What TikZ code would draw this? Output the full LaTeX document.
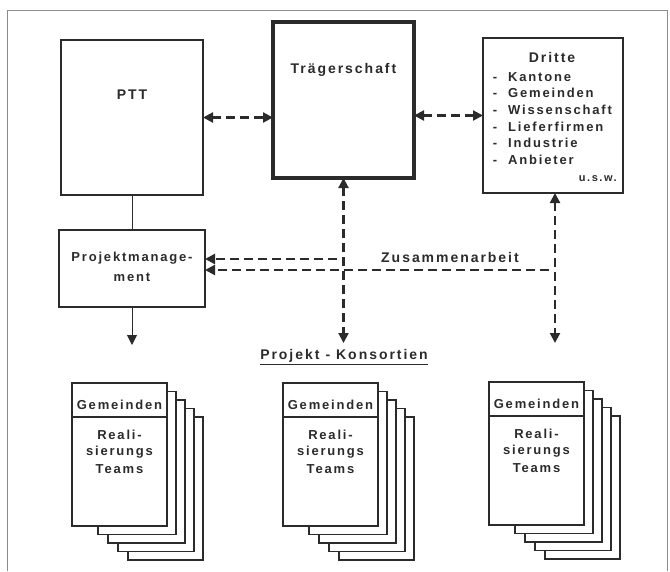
\documentclass[tikz,border=0pt]{standalone}
\usepackage{fontspec}
\setmainfont{Liberation Sans}[LetterSpace=14]
\usetikzlibrary{arrows.meta}
\definecolor{ink}{HTML}{2B2B2B}
\begin{document}
\begin{tikzpicture}[x=1pt,y=-1pt,
  box/.style={draw=ink,line width=2.4pt,fill=white,inner sep=0pt,outer sep=0pt,anchor=north west},
  page/.style={draw=ink,line width=1.8pt,fill=white},
  txt/.style={text=ink,font=\fontsize{13}{15}\selectfont\bfseries,inner sep=0pt},
  big/.style={text=ink,font=\fontsize{14}{16}\selectfont\bfseries,inner sep=0pt},
  small/.style={text=ink,font=\fontsize{11}{13}\selectfont\bfseries,inner sep=0pt},
  dline/.style={draw=ink,line width=2.2pt,dash pattern=on 9pt off 5pt},
  tip/.style={-{Triangle[length=10pt,width=10pt]}},
  tips/.style={{Triangle[length=10pt,width=10pt]}-{Triangle[length=10pt,width=10pt]}},
  frame/.style={draw=black!45,line width=1pt}]
\useasboundingbox (0,0) rectangle (670,571);
% outer frame
\draw[frame] (7,571) -- (7,10) -- (667,10) -- (667,571);
% main boxes
\node[box,minimum width=142pt,minimum height=155pt] (ptt) at (61,40) {};
\node[box,line width=3.6pt,minimum width=141pt,minimum height=156pt] (traeger) at (273,22) {};
\node[box,minimum width=140pt,minimum height=155pt] (dritte) at (483,38) {};
\node[box,minimum width=146pt,minimum height=77pt] (pm) at (59,230) {};
% texts
\node[big] (pttl) at (132,95) {PTT};
\node[big] (tl) at (343.5,70) {Trägerschaft};
\node[big] (dl) at (552,57) {Dritte};
\foreach \t/\y [count=\i] in {Kantone/77,Gemeinden/93,Wissenschaft/110,Lieferfirmen/127,Industrie/143,Anbieter/160}{
  \node[txt,anchor=base] (dd\i) at (495,\y+4.5) {-};
  \node[txt,anchor=base west] (di\i) at (508,\y+4.5) {\t};
}
\node[small,anchor=base east] (usw) at (617,181) {u.s.w.};
\node[txt] (pm1) at (132,258) {Projektmanage-};
\node[txt] (pm2) at (132,277) {ment};
\node[big] (za) at (450,257) {Zusammenarbeit};
\node[big] (kons) at (344,357) {\underline{Projekt\hspace{6pt}-\hspace{6pt}Konsortien}};
% connectors
\draw[dline,tips] (ptt.east) -- (ptt.east -| traeger.west);
\draw[dline,tips] (dritte.west -| traeger.east) -- (dritte.west);
\draw[draw=ink,line width=1pt] (ptt.south) -- (pm.north);
\coordinate (pmend) at (132,345);
\draw[draw=ink,line width=1pt,tip] (pm.south) -- (pmend);
\coordinate (tend) at (343.5,343);
\coordinate (dend) at (555,343);
\draw[dline,tips] (traeger.south) -- (tend);
\draw[dline,tips] (dritte.south -| dend) -- (dend);
\coordinate (j1) at (337,259);
\coordinate (j2) at (549,270);
\draw[dline,tip] (j1) -- (j1 -| pm.east);
\draw[dline,tip] (j2) -- (j2 -| pm.east);
% stacks
\foreach \L/\T/\n in {72/383/a,283/383/b,489/382/c}{
  \pgfmathsetmacro{\R}{\L+95}
  \pgfmathsetmacro{\B}{\T+143}
  \foreach \i in {4,3,2,1}{
    \draw[page] ({\L+16+10*\i},{\T+8.5*\i}) rectangle ({\R+9*\i},{\B+8.5*\i});
  }
  \node[box,line width=1.8pt,minimum width=95pt,minimum height=143pt] (front\n) at (\L,\T) {};
  \draw[draw=ink,line width=1.3pt] ([yshift=-34pt]front\n.north west) -- ([yshift=-34pt]front\n.north east);
  \node[txt] (g\n) at ([yshift=-22pt]front\n.north) {Gemeinden};
  \node[txt] (r\n) at ([yshift=-52pt]front\n.north) {Reali-};
  \node[txt] (s\n) at ([yshift=-69pt]front\n.north) {sierungs};
  \node[txt] (t\n) at ([yshift=-86pt]front\n.north) {Teams};
}
\end{tikzpicture}
\end{document}
